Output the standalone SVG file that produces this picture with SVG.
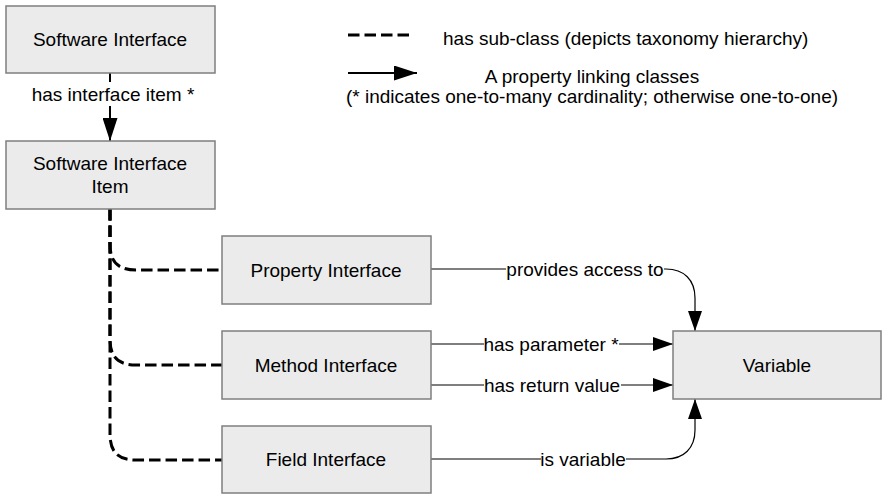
<svg xmlns="http://www.w3.org/2000/svg" width="882" height="494" viewBox="0 0 882 494">
  <style>
    .box { fill: #ebebeb; stroke: #7f7f7f; stroke-width: 1.5; }
    text { font-family: "Liberation Sans", Arial, sans-serif; font-size: 19px; fill: #000; }
    .c { text-anchor: middle; }
    .rel { fill: none; stroke: #000; stroke-width: 1.2; }
    .thick { stroke-width: 2; }
    .sub { fill: none; stroke: #000; stroke-width: 3; stroke-dasharray: 11.5 5; }
    .lblbg { fill: #fff; }
  </style>
  <defs>
    <marker id="arrow" viewBox="0 0 20 14" refX="20" refY="7" markerWidth="20" markerHeight="14" markerUnits="userSpaceOnUse" orient="auto">
      <path d="M0,0 L20,7 L0,14 Z" fill="#000"/>
    </marker>
    <marker id="arrow-lg" viewBox="0 0 23 15" refX="23" refY="7.5" markerWidth="23" markerHeight="15" markerUnits="userSpaceOnUse" orient="auto">
      <path d="M0,0 L23,7.5 L0,15 Z" fill="#000"/>
    </marker>
  </defs>

  <rect width="882" height="494" fill="#fff"/>

  <!-- legend -->
  <g id="legend">
    <line x1="348" y1="35" x2="410" y2="35" class="sub"/>
    <text x="443" y="45">has sub-class (depicts taxonomy hierarchy)</text>
    <line x1="348" y1="73" x2="417" y2="73" class="rel thick" marker-end="url(#arrow-lg)"/>
    <text x="592" y="83" class="c">A property linking classes</text>
    <text x="592" y="103" class="c">(* indicates one-to-many cardinality; otherwise one-to-one)</text>
  </g>

  <!-- connectors -->
  <g id="connectors">
    <!-- taxonomy branches -->
    <path class="sub" d="M110,209 L110,244 C110,262 118,270 136,270 L222,270"/>
    <path class="sub" d="M110,209 L110,339 C110,357 118,365 136,365 L222,365"/>
    <path class="sub" d="M110,209 L110,434 C110,452 118,460 136,460 L222,460"/>

    <!-- properties -->
    <path class="rel thick" d="M110,73 L110,141" marker-end="url(#arrow-lg)"/>
    <path class="rel" d="M431,269 L666,269 C684,269 695,280 695,298 L695,331" marker-end="url(#arrow)"/>
    <path class="rel" d="M431,344 L673,344" marker-end="url(#arrow)"/>
    <path class="rel" d="M431,385 L673,385" marker-end="url(#arrow)"/>
    <path class="rel" d="M431,459 L666,459 C684,459 695,448 695,430 L695,399" marker-end="url(#arrow)"/>

    <!-- labels -->
    <rect class="lblbg" x="30" y="82" width="166" height="24"/>
    <text x="113" y="101" class="c">has interface item *</text>
    <rect class="lblbg" x="506" y="258" width="158" height="22"/>
    <text x="585" y="276" class="c">provides access to</text>
    <rect class="lblbg" x="484" y="333" width="135" height="22"/>
    <text x="551" y="351" class="c">has parameter *</text>
    <rect class="lblbg" x="484" y="374" width="137" height="22"/>
    <text x="552" y="392" class="c">has return value</text>
    <rect class="lblbg" x="541" y="448" width="85" height="22"/>
    <text x="583" y="466" class="c">is variable</text>
  </g>

  <!-- nodes -->
  <g id="software-interface">
    <rect class="box" x="6" y="6" width="209" height="67"/>
    <text x="110" y="46" class="c">Software Interface</text>
  </g>
  <g id="software-interface-item">
    <rect class="box" x="6" y="141" width="209" height="68"/>
    <text x="110" y="170" class="c">Software Interface</text>
    <text x="110" y="193" class="c">Item</text>
  </g>
  <g id="property-interface">
    <rect class="box" x="222" y="236" width="209" height="68"/>
    <text x="326" y="277" class="c">Property Interface</text>
  </g>
  <g id="method-interface">
    <rect class="box" x="222" y="331" width="209" height="68"/>
    <text x="326" y="372" class="c">Method Interface</text>
  </g>
  <g id="field-interface">
    <rect class="box" x="222" y="426" width="209" height="67"/>
    <text x="326" y="466" class="c">Field Interface</text>
  </g>
  <g id="variable">
    <rect class="box" x="673" y="331" width="208" height="68"/>
    <text x="777" y="372" class="c">Variable</text>
  </g>
</svg>
